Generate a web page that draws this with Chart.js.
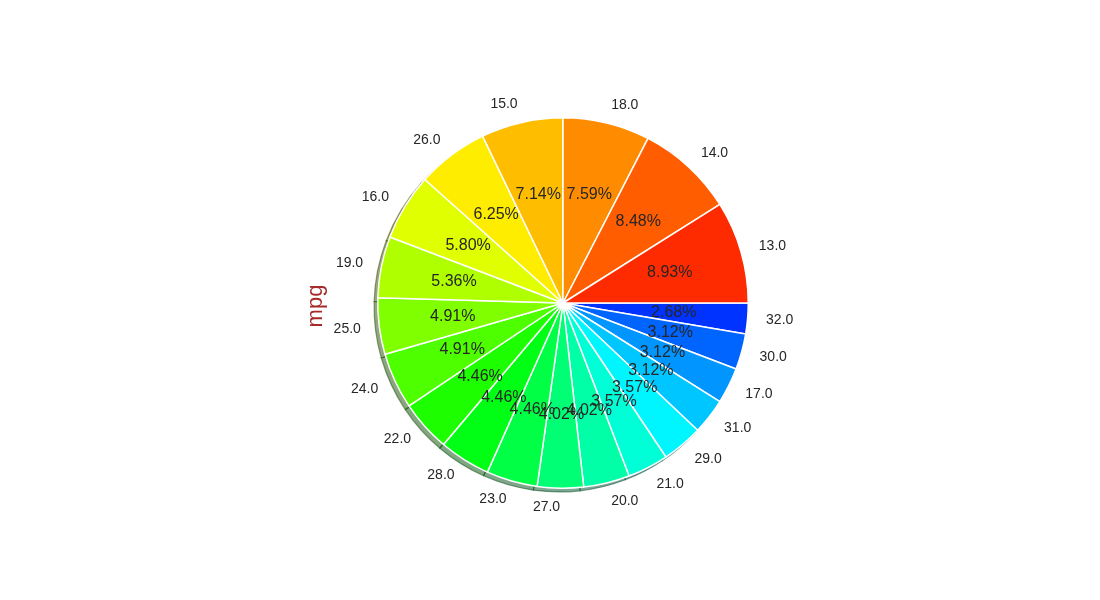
<!DOCTYPE html>
<html>
<head>
<meta charset="utf-8">
<script src="https://cdn.jsdelivr.net/npm/chart.js@4"></script>
<style>
html,body{margin:0;padding:0;background:#fff;}
#wrap{width:1100px;height:600px;}
</style>
</head>
<body>
<div id="wrap"><canvas id="c" width="1100" height="600"></canvas></div>
<script>
// Categories (mpg values) in matplotlib order (counter-clockwise from 3 o'clock)
const categories = ["13.0","14.0","18.0","15.0","26.0","16.0","19.0","25.0","24.0","22.0",
                    "28.0","23.0","27.0","20.0","21.0","29.0","31.0","17.0","30.0","32.0"];
// Counts per category
const counts = [20,19,17,16,14,13,12,11,11,10,10,10,9,9,8,8,7,7,7,6];
// Slice colours
const sliceColors = ["#ff2b00","#ff5d00","#ff8c00","#ffbd00","#ffed00","#e0ff00","#afff00","#7fff00",
                     "#4eff00","#1dff00","#00ff14","#00ff45","#00ff75","#00ffa6","#00ffd7","#00f6ff",
                     "#00c6ff","#0095ff","#0064ff","#0033ff"];
const yLabel = "mpg";

const total = counts.reduce((a,b)=>a+b,0);
// Chart.js draws clockwise; reverse so the visual order matches counter-clockwise drawing
const rLabels = categories.slice().reverse();
const rCounts = counts.slice().reverse();
const rColors = sliceColors.slice().reverse();

const FONT = '"Liberation Sans", Arial, "DejaVu Sans", sans-serif';
const TEXT = '#262626';

function hexToRgb(h){
  const n=parseInt(h.slice(1),16);
  return [(n>>16)&255,(n>>8)&255,n&255];
}
// round half to even at 2 decimals (like Python's '%1.2f' on exact halves)
function fmt2(v){
  const s=v*100;
  const f=Math.floor(s);
  const d=s-f;
  let r;
  if(Math.abs(d-0.5)<1e-9) r = (f%2===0)?f:f+1;
  else r=Math.round(s);
  return (r/100).toFixed(2);
}

const shadowPlugin = {
  id:'shadow',
  beforeDatasetsDraw(chart){
    const ctx=chart.ctx;
    const meta=chart.getDatasetMeta(0);
    const dx=-3.7, dy=3.7;
    ctx.save();
    meta.data.forEach((arc,i)=>{
      const p=arc.getProps(['x','y','startAngle','endAngle','outerRadius'],true);
      const c=hexToRgb(rColors[i]).map(v=>Math.round(v*0.3));
      const col='rgba('+c[0]+','+c[1]+','+c[2]+',0.5)';
      ctx.beginPath();
      ctx.moveTo(p.x+dx,p.y+dy);
      ctx.arc(p.x+dx,p.y+dy,p.outerRadius,p.startAngle,p.endAngle);
      ctx.closePath();
      ctx.fillStyle=col;
      ctx.fill();
      ctx.strokeStyle=col;
      ctx.lineWidth=1.2;
      ctx.stroke();
    });
    ctx.restore();
  }
};

const labelPlugin = {
  id:'pielabels',
  afterDatasetsDraw(chart){
    const ctx=chart.ctx;
    const meta=chart.getDatasetMeta(0);
    ctx.save();
    ctx.fillStyle=TEXT;
    // outer category labels
    ctx.font='14px '+FONT;
    ctx.textBaseline='middle';
    meta.data.forEach((arc,i)=>{
      const p=arc.getProps(['x','y','startAngle','endAngle','outerRadius'],true);
      const a=(p.startAngle+p.endAngle)/2;
      const r=p.outerRadius*1.1;
      const x=p.x+r*Math.cos(a), y=p.y+r*Math.sin(a);
      const cx=Math.cos(a);
      ctx.textAlign = Math.abs(cx)<1e-9 ? 'center' : (cx>0 ? 'left' : 'right');
      ctx.fillText(rLabels[i],x,y);
    });
    // percentages
    ctx.font='16px '+FONT;
    ctx.textAlign='center';
    for(let i=meta.data.length-1;i>=0;i--){
      const arc=meta.data[i];
      const p=arc.getProps(['x','y','startAngle','endAngle','outerRadius'],true);
      const a=(p.startAngle+p.endAngle)/2;
      const r=p.outerRadius*0.6;
      const x=p.x+r*Math.cos(a), y=p.y+r*Math.sin(a);
      ctx.fillText(fmt2(rCounts[i]/total*100)+'%',x,y);
    }
    // y label
    ctx.font='22px '+FONT;
    ctx.fillStyle='#a52a2a';
    ctx.translate(321.5,306);
    ctx.rotate(-Math.PI/2);
    ctx.textAlign='center';
    ctx.textBaseline='alphabetic';
    ctx.fillText(yLabel,0,0);
    ctx.restore();
  }
};

new Chart(document.getElementById('c'),{
  type:'pie',
  data:{
    labels:rLabels,
    datasets:[{
      data:rCounts,
      backgroundColor:rColors,
      borderColor:'#ffffff',
      borderWidth:1.5
    }]
  },
  options:{
    responsive:false,
    animation:false,
    rotation:90,
    layout:{padding:{left:377,right:351,top:117,bottom:111}},
    plugins:{legend:{display:false},tooltip:{enabled:false}}
  },
  plugins:[shadowPlugin,labelPlugin]
});
</script>
</body>
</html>
